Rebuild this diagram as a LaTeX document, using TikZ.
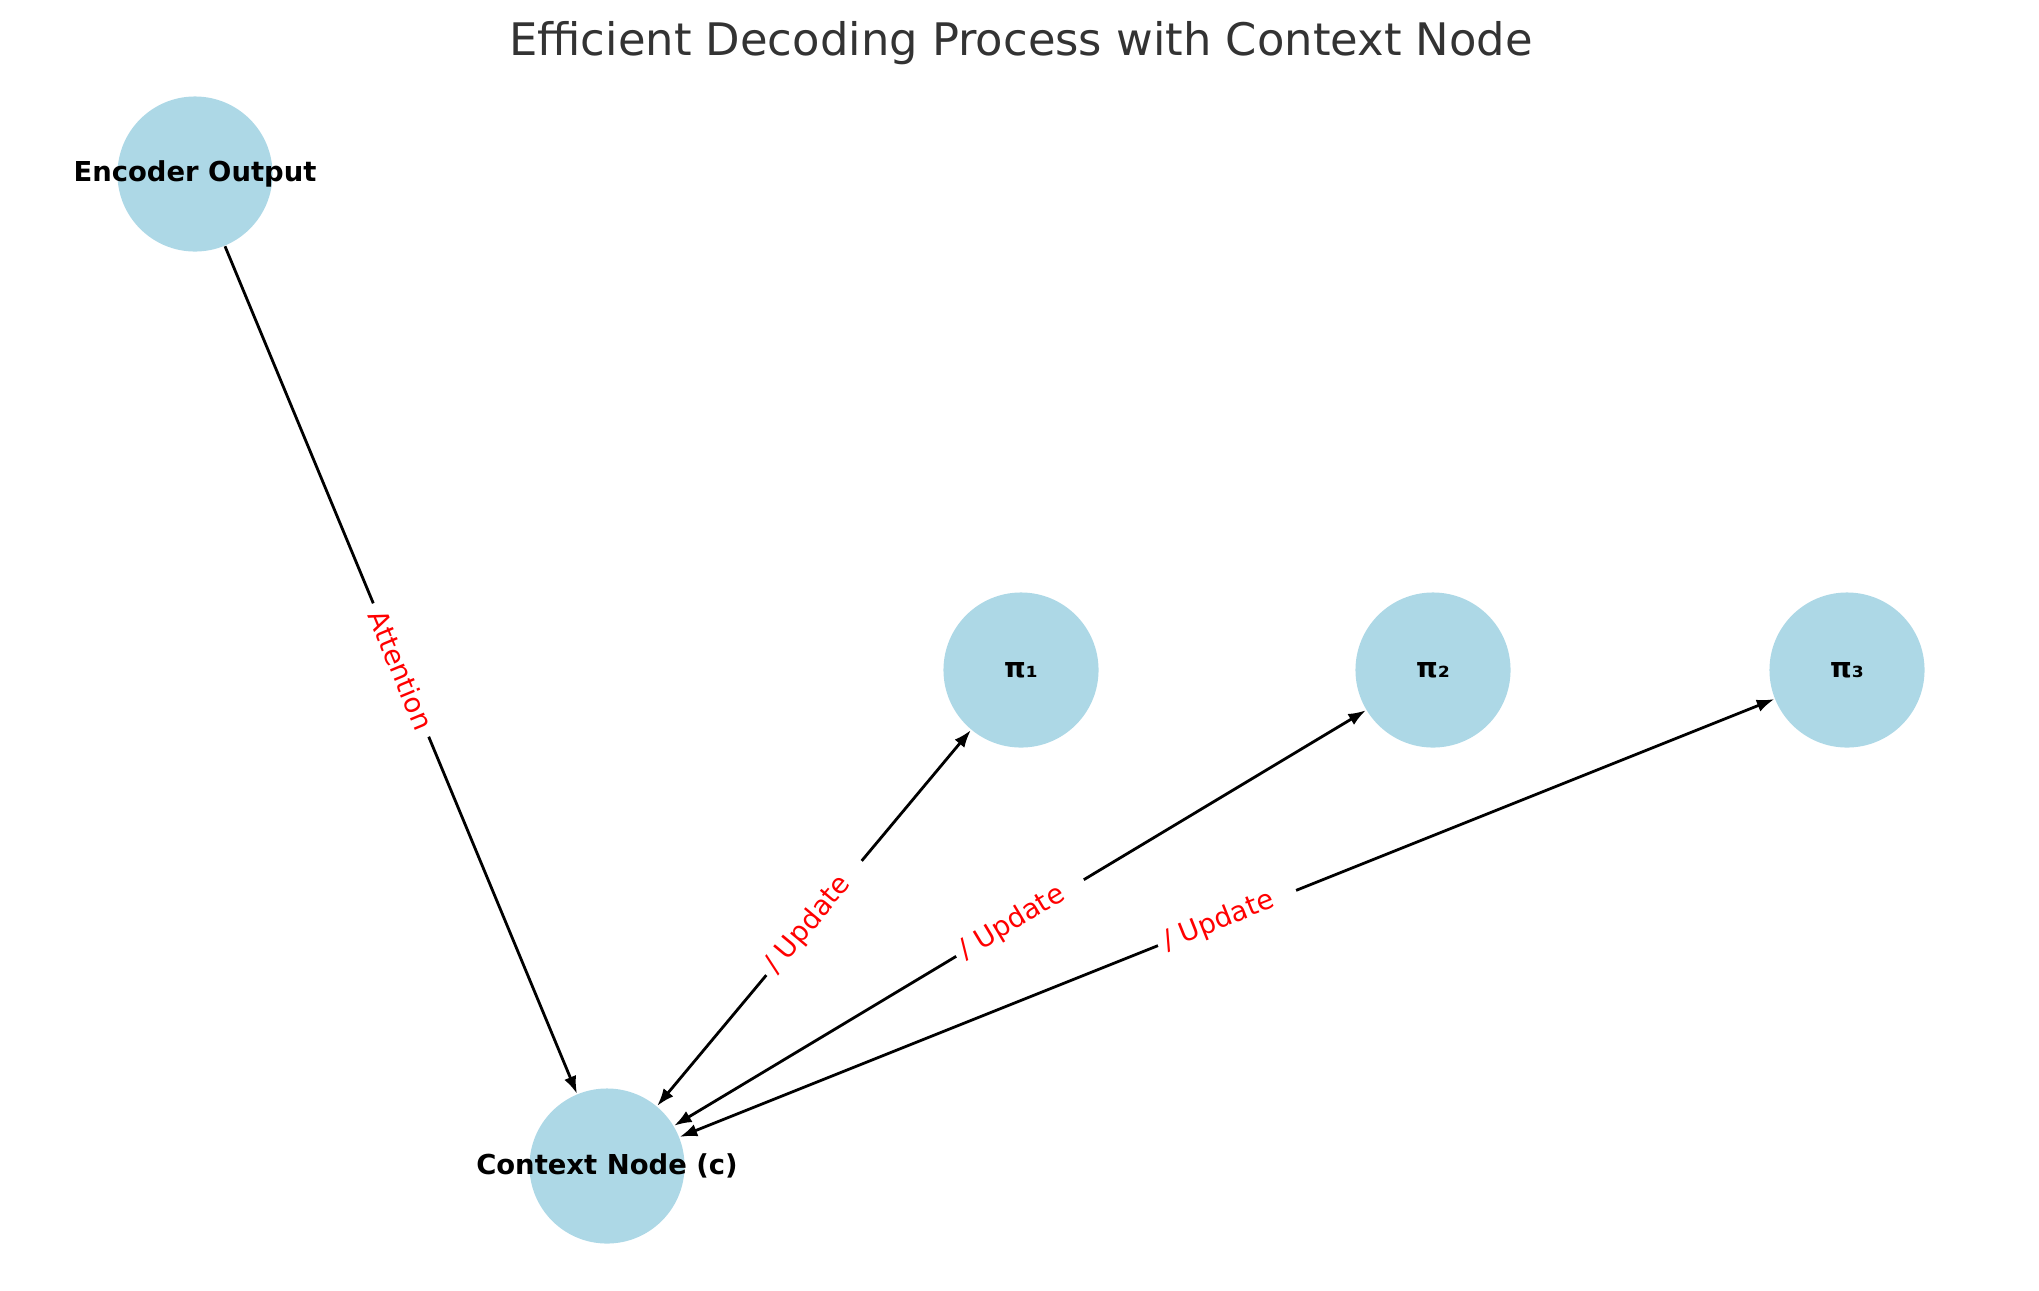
\documentclass[tikz,border=0pt]{standalone}
\usepackage{fontspec}
\setmainfont{DejaVu Sans}
\usetikzlibrary{arrows.meta}
\definecolor{nodeblue}{HTML}{ADD8E6}
\definecolor{titlegray}{HTML}{333333}
\begin{document}
\begin{tikzpicture}[x=0.01cm,y=-0.01cm,
  gnode/.style={circle,fill=nodeblue,minimum size=1.55cm,inner sep=0pt,
    font=\fontsize{7.8}{9}\selectfont\bfseries},
  edge/.style={line width=0.8pt,-{Latex[length=5pt,width=3.6pt]}},
  biedge/.style={line width=0.8pt,{Latex[length=5pt,width=3.6pt]}-{Latex[length=5pt,width=3.6pt]}},
  elabel/.style={sloped,fill=white,text=red,inner ysep=1.5pt,
    font=\fontsize{7.8}{9}\selectfont},
]
\useasboundingbox (0,0) rectangle (2039,1290);

\node[anchor=base,text=titlegray,font=\fontsize{12.75}{15}\selectfont] (title) at (1021,55)
  {Efficient Decoding Process with Context Node};

\node[gnode] (enc) at (195,174) {\makebox[0pt]{Encoder Output}};
\node[gnode] (ctx) at (607,1166) {\makebox[0pt]{Context Node (c)}};
\node[gnode] (p1) at (1021,670) {π₁};
\node[gnode] (p2) at (1433,670) {π₂};
\node[gnode] (p3) at (1847,670) {π₃};

\draw[edge] (enc) -- node[elabel,inner xsep=2.5pt] (lab0) {Attention} (ctx);
\draw[biedge] (ctx) -- node[elabel,inner xsep=7pt] (lab1) {\llap{/\ }Update} (p1);
\draw[biedge] (ctx) -- node[elabel,inner xsep=7pt] (lab2) {\llap{/\ }Update} (p2);
\draw[biedge] (ctx) -- node[elabel,inner xsep=7pt] (lab3) {\llap{/\ }Update} (p3);
\end{tikzpicture}
\end{document}
